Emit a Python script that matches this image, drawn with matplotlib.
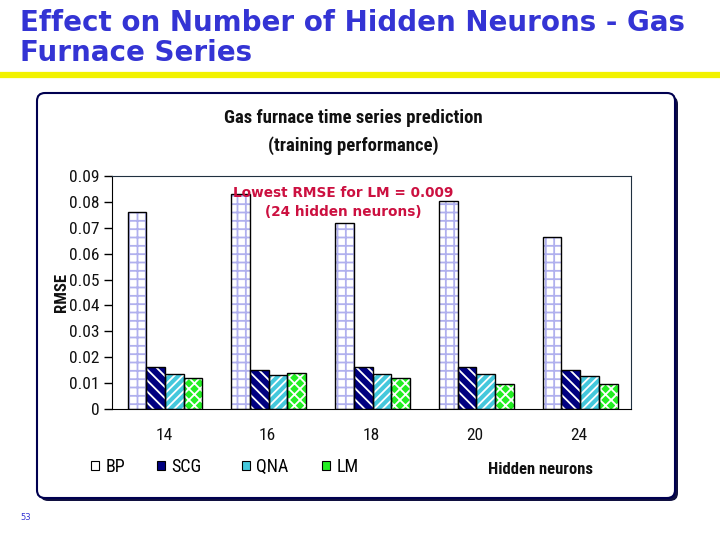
import matplotlib
matplotlib.use("Agg")
import matplotlib.pyplot as plt
import numpy as np
from matplotlib import font_manager
from matplotlib.patches import FancyBboxPatch, Patch
from matplotlib.lines import Line2D

# ---- data ----
neurons = ["14", "16", "18", "20", "24"]
series = ["BP", "SCG", "QNA", "LM"]
bp = [0.0761, 0.0829, 0.0717, 0.0802, 0.0663]
scg = [0.0161, 0.0149, 0.0164, 0.0161, 0.0149]
qna = [0.0134, 0.0132, 0.0134, 0.0134, 0.0129]
lm = [0.0119, 0.0139, 0.0119, 0.0095, 0.0095]
yticks = [0, 0.01, 0.02, 0.03, 0.04, 0.05, 0.06, 0.07, 0.08, 0.09]
ytick_labels = ["0", "0.01", "0.02", "0.03", "0.04", "0.05", "0.06", "0.07", "0.08", "0.09"]

# pick a narrow face if one is installed
installed = {f.name for f in font_manager.fontManager.ttflist}
NARROW = "DejaVu Sans"
for cand in ["Liberation Sans Narrow", "Roboto Condensed", "Open Sans Condensed", "Arial Narrow"]:
    if cand in installed:
        NARROW = cand
        break
STRETCH = "condensed"

plt.rcParams["hatch.linewidth"] = 1.3

fig = plt.figure(figsize=(7.2, 5.4), dpi=100)
fig.patch.set_facecolor("white")

# slide title + yellow rule
fig.text(20 / 720, 1 - 9 / 540, "Effect on Number of Hidden Neurons - Gas\nFurnace Series",
         ha="left", va="top", fontsize=20, fontweight="bold", color="#3434d4",
         family="DejaVu Sans", linespacing=1.1)
fig.add_artist(Line2D([0, 1], [1 - 75 / 540] * 2, color="#f2f200", lw=4.5,
                      transform=fig.transFigure))
fig.text(20 / 720, 1 - 517 / 540, "53", ha="left", va="center", fontsize=6, color="#3434d4")

# chart frame with shadow (pixel coords)
shadow = FancyBboxPatch((40, 540 - 501), 638, 405, boxstyle="round,pad=0,rounding_size=8",
                        transform=None, facecolor="#101040", edgecolor="none", zorder=0)
frame = FancyBboxPatch((37, 540 - 498), 638, 405, boxstyle="round,pad=0,rounding_size=8",
                       transform=None, facecolor="white", edgecolor="#000050", lw=1.5, zorder=1)
fig.add_artist(shadow)
fig.add_artist(frame)

tfont = dict(family=NARROW, fontstretch=STRETCH, fontweight="bold", color="#111111")
fig.text(353 / 720, 1 - 118 / 540, "Gas furnace time series prediction", ha="center", va="center",
         fontsize=13.5, zorder=3, **tfont)
fig.text(353 / 720, 1 - 146 / 540, "(training performance)", ha="center", va="center",
         fontsize=13.5, zorder=3, **tfont)

ax = fig.add_axes([112 / 720, 1 - 409 / 540, 519 / 720, 233 / 540], zorder=2)
ax.set_facecolor("white")

x = np.arange(len(neurons))
w = 0.18
offsets = (np.arange(4) - 1.5) * w + 0.01

styles = [
    dict(face="white", hatch="++", hcol="#b0b0ee"),
    dict(face="#000080", hatch="\\\\\\", hcol="white"),
    dict(face="#44c8dc", hatch="////", hcol="white"),
    dict(face="#22ee22", hatch="xxx", hcol="white"),
]
for vals, off, st in zip([bp, scg, qna, lm], offsets, styles):
    ax.bar(x + off, vals, w, color=st["face"], edgecolor=st["hcol"], hatch=st["hatch"], lw=0, zorder=2)
    ax.bar(x + off, vals, w, fill=False, edgecolor="black", lw=1.0, zorder=3)

ax.set_xlim(-0.5, len(neurons) - 0.5)
ax.set_ylim(0, 0.09)
ax.set_yticks(yticks)
ax.set_yticklabels(ytick_labels)
ax.set_xticks(x)
ax.set_xticklabels(neurons)
for lab in ax.get_xticklabels() + ax.get_yticklabels():
    lab.set_family(NARROW)
    lab.set_stretch(STRETCH)
    lab.set_fontsize(12.5)
    lab.set_color("#111111")
ax.tick_params(axis="x", length=0, pad=14)
ax.tick_params(axis="y", length=6, width=1, direction="out", pad=3)
ax.spines["left"].set_color("black")
ax.spines["bottom"].set_color("black")
ax.spines["top"].set_color("#203040")
ax.spines["right"].set_color("#203040")
ax.spines["top"].set_linewidth(0.8)
ax.spines["right"].set_linewidth(0.8)

ax.set_ylabel("RMSE", fontsize=12, **tfont)
ax.yaxis.set_label_coords((69 - 112) / 519, 0.5)

ax.text(1.73, 0.0797, "Lowest RMSE for LM = 0.009\n(24 hidden neurons)", ha="center", va="center",
        fontsize=9.8, fontweight="bold", color="#cc1040", family="DejaVu Sans",
        linespacing=1.45, zorder=5)

# legend along the bottom: one entry per spot
lx = [91, 157, 242, 322]
for i, (name, st) in enumerate(zip(series, styles)):
    face = "white" if i == 0 else st["face"]
    h = Patch(facecolor=face, edgecolor="black", lw=0.8)
    fig.legend([h], [name], loc="center left", bbox_to_anchor=(lx[i] / 720, 1 - 467 / 540),
               frameon=False, handlelength=0.45, handleheight=0.45, handletextpad=0.35,
               borderpad=0, borderaxespad=0,
               prop={"family": NARROW, "stretch": STRETCH, "size": 13})
fig.text(540 / 720, 1 - 470 / 540, "Hidden neurons", ha="center", va="center",
         fontsize=12, **tfont)

fig.savefig("out.png", dpi=100)
